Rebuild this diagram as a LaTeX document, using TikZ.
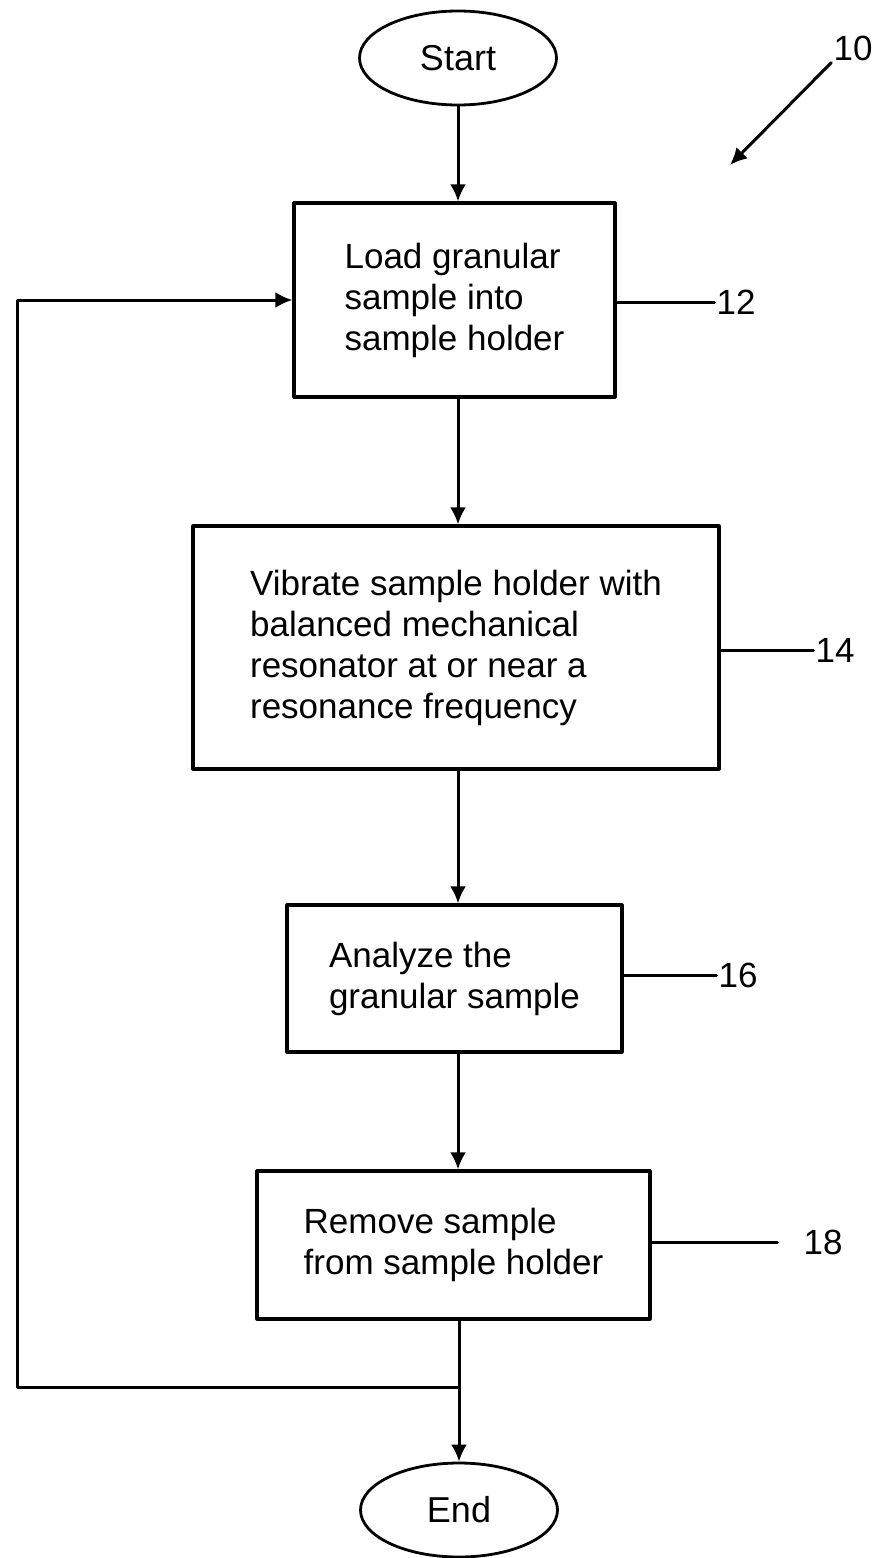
\documentclass[tikz,border=0pt]{standalone}
\usepackage{fontspec}
\setmainfont{Liberation Sans}
\usetikzlibrary{arrows.meta,shapes.geometric}
\begin{document}
\begin{tikzpicture}[x=1pt,y=-1pt,>={Latex[length=17pt,width=16pt]}, line join=round, line cap=round,
        stepbox/.style={draw,line width=3.2pt,align=left,inner sep=0pt,font=\fontsize{35}{41}\selectfont},
        terminal/.style={draw,ellipse,line width=2.8pt,inner sep=0pt,minimum width=197pt,minimum height=94pt,font=\fontsize{36}{40}\selectfont},
        reflabel/.style={inner sep=2pt,font=\fontsize{35}{38}\selectfont},
        flow/.style={line width=3pt}]
                \useasboundingbox (0,0) rectangle (877,1558);
                \node[terminal] (start) at (458,58) {Start};
                \node[stepbox,minimum width=321pt,minimum height=194pt] (load) at (454.5,300) {Load granular\\sample into\\sample holder};
                \node[stepbox,minimum width=526pt,minimum height=243pt] (vibrate) at (456,647.5) {Vibrate sample holder with\\balanced mechanical\\resonator at or near a\\resonance frequency};
                \node[stepbox,minimum width=335pt,minimum height=147pt] (analyze) at (454.5,978.5) {Analyze the\\granular sample};
                \node[stepbox,minimum width=393pt,minimum height=148pt] (remove) at (453.5,1245) {Remove sample\\from sample holder};
                \node[terminal] (end) at (459,1510) {End};
                % reference numerals
                \node[reflabel] (n10) at (853,48) {10};
                \node[reflabel] (n12) at (736,302) {12};
                \node[reflabel] (n14) at (835,650) {14};
                \node[reflabel] (n16) at (738,975) {16};
                \node[reflabel] (n18) at (823,1242) {18};
                \coordinate (tip10) at (730,165);
                \coordinate (fbturn) at (17,1387);
                \draw[flow,->] (start.south) -- (start.south |- load.north);
                \draw[flow,->] (load.south -| start) -- (vibrate.north -| start);
                \draw[flow,->] (vibrate.south -| start) -- (analyze.north -| start);
                \draw[flow,->] (analyze.south -| start) -- (remove.north -| start);
                \draw[flow,->] (remove.south -| end) -- (end.north);
                \draw[flow,->] (fbturn -| end) -- (fbturn) |- (load.west);
                \draw[flow,->] (n10.south west) -- (tip10);
                \draw[flow] (load.east |- n12) -- (n12.west);
                \draw[flow] (vibrate.east |- n14) -- (n14.west);
                \draw[flow] (analyze.east |- n16) -- (n16.west);
                \draw[flow] (remove.east |- n18) -- ([xshift=-24pt]n18.west);
            \end{tikzpicture}
\end{document}
